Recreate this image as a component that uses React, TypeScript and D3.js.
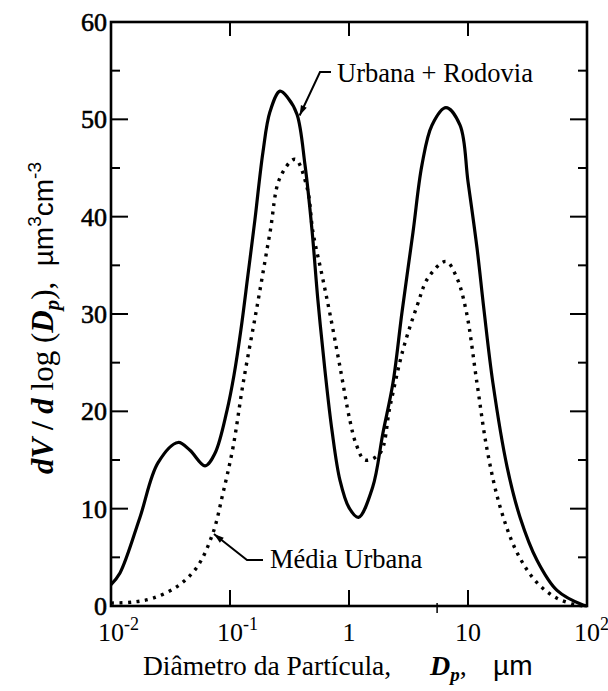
import React from "react";
import * as d3 from "d3";

// Urbana + Rodovia (solid)
const urbRodD = [0.01, 0.0119, 0.0175, 0.0248, 0.0366, 0.0461, 0.0617, 0.0748, 0.0944, 0.108, 0.1236, 0.1415, 0.162, 0.189, 0.217, 0.263, 0.307, 0.366, 0.427, 0.489, 0.548, 0.628, 0.72, 0.84, 1.0, 1.2, 1.58, 1.93, 2.34, 2.79, 3.45, 4.1, 4.98, 6.53, 8.57, 10.0, 11.9, 13.6, 16.2, 21.3, 27.4, 38.0, 56.0, 92.5, 100];
const urbRodV = [2.2, 3.4, 9.1, 14.7, 16.8, 16.0, 14.4, 15.7, 20.1, 23.7, 28.4, 34.0, 39.7, 46.6, 50.8, 52.9, 52.2, 50.5, 45.3, 38.6, 31.4, 24.2, 18.0, 12.9, 10.1, 9.1, 12.2, 17.8, 22.9, 30.2, 38.4, 45.3, 49.4, 51.2, 49.4, 43.6, 36.8, 30.5, 22.9, 14.3, 9.1, 4.7, 1.6, 0.1, 0];

// Média Urbana (dotted)
const mediaD = [0.01, 0.0153, 0.0225, 0.0359, 0.0528, 0.0719, 0.0873, 0.106, 0.129, 0.169, 0.217, 0.263, 0.352, 0.444, 0.498, 0.593, 0.692, 0.839, 1.02, 1.15, 1.36, 1.82, 2.21, 2.84, 3.75, 4.61, 6.53, 8.07, 9.66, 11.9, 14.5, 18.6, 25.8, 38.0, 56.0, 82.4, 100];
const mediaV = [0.3, 0.4, 0.8, 2.0, 4.0, 7.5, 11.6, 16.3, 22.9, 30.8, 38.4, 44.0, 45.9, 43.0, 38.4, 34.0, 30.0, 24.6, 19.0, 16.6, 15.0, 15.7, 20.5, 26.3, 30.9, 33.7, 35.4, 33.7, 30.3, 22.9, 16.0, 10.2, 5.5, 2.4, 0.8, 0.1, 0];

const xTicks = [0.01, 0.1, 1, 10, 100];
const xTickBase = ["10", "10", "1", "10", "10"];
const xTickSup = ["-2", "-1", "", "", "2"];
const xOddTick = [5.5];
const yMajor = [0, 10, 20, 30, 40, 50, 60];
const yMinor = [5, 15, 25, 35, 45, 55];

const seriesNames = ["Urbana + Rodovia", "Média Urbana"];
const annotD = [0.37, 0.0719];
const annotV = [50.5, 7.5];

const W = 608, H = 691;
const L = 111, R = 587, T = 22, B = 606;

export default function App() {
  const x = d3.scaleLog().domain([0.01, 100]).range([L, R]);
  const y = d3.scaleLinear().domain([0, 60]).range([B, T]);
  const mk = d3
    .line<[number, number]>()
    .x((d) => x(d[0]))
    .y((d) => y(d[1]))
    .curve(d3.curveCatmullRom.alpha(0.5));
  const solid = mk(urbRodD.map((d, i) => [d, urbRodV[i]] as [number, number])) || "";
  const dotted = mk(mediaD.map((d, i) => [d, mediaV[i]] as [number, number])) || "";

  const serif = "Liberation Serif, Times New Roman, Times, Tinos, DejaVu Serif, serif";
  const sans = "Liberation Sans, Arial, sans-serif";

  const tip1 = [x(annotD[0]) + 2, y(annotV[0]) + 1];
  const elbow1 = [320, 72];
  const end1 = [331, 72];
  const tip2 = [x(annotD[1]) + 1, y(annotV[1]) + 1];
  const elbow2 = [247, 560];
  const end2 = [263, 560];

  const arrow = (tip: number[], from: number[]) => {
    const dx = tip[0] - from[0], dy = tip[1] - from[1];
    const len = Math.hypot(dx, dy);
    const ux = dx / len, uy = dy / len;
    const al = 10, aw = 3.2;
    const bx = tip[0] - ux * al, by = tip[1] - uy * al;
    return `M${tip[0]},${tip[1]}L${bx - uy * aw},${by + ux * aw}L${bx + uy * aw},${by - ux * aw}Z`;
  };

  const fsTick = 26;
  return (
    <svg width={W} height={H} style={{ position: "absolute", left: 0, top: 0, background: "#fff" }}>
      <rect width={W} height={H} fill="#fff" />
      <path d={solid} fill="none" stroke="#000" strokeWidth={3.2} />
      <path d={dotted} fill="none" stroke="#000" strokeWidth={3.4} strokeDasharray="3 5.5" />

      <rect x={L} y={T} width={R - L} height={B - T} fill="none" stroke="#000" strokeWidth={2.6} />

      {yMajor.map((v) => (
        <g key={"ym" + v}>
          <line x1={L} x2={L + 17} y1={y(v)} y2={y(v)} stroke="#000" strokeWidth={2} />
          <line x1={R} x2={R - 17} y1={y(v)} y2={y(v)} stroke="#000" strokeWidth={2} />
          <text x={L - 4} y={y(v)} dy="0.35em" textAnchor="end" style={{ fontFamily: serif }} fontSize={fsTick} fill="#000" stroke="#000" strokeWidth={0.6}>
            {v}
          </text>
        </g>
      ))}
      {yMinor.map((v) => (
        <g key={"yn" + v}>
          <line x1={L} x2={L + 9} y1={y(v)} y2={y(v)} stroke="#000" strokeWidth={2} />
          <line x1={R} x2={R - 9} y1={y(v)} y2={y(v)} stroke="#000" strokeWidth={2} />
        </g>
      ))}

      {xTicks.map((t, i) => (
        <g key={"xt" + t}>
          {i > 0 && i < xTicks.length - 1 && (
            <>
              <line x1={x(t)} x2={x(t)} y1={B} y2={B - 16} stroke="#000" strokeWidth={2} />
              <line x1={x(t)} x2={x(t)} y1={T} y2={T + 14} stroke="#000" strokeWidth={2} />
            </>
          )}
          <text
            x={x(t) - (xTickBase[i].length * fsTick * 0.5) / 2}
            y={641}
            style={{ fontFamily: serif }}
            fontSize={fsTick}
            fill="#000"
          >
            {xTickBase[i]}
            {xTickSup[i] && (
              <tspan fontSize={18} dy={-11}>
                {xTickSup[i]}
              </tspan>
            )}
          </text>
        </g>
      ))}
      {xOddTick.map((t) => (
        <line key={"xo" + t} x1={x(t)} x2={x(t)} y1={B - 3} y2={B + 7} stroke="#000" strokeWidth={1.5} />
      ))}

      <text x={143} y={675} style={{ fontFamily: serif }} fontSize={27.5} fill="#000">
        Diâmetro da Partícula,
      </text>
      <text x={430} y={675} style={{ fontFamily: serif }} fontSize={28} fontStyle="italic" fontWeight="bold" fill="#000">
        D
        <tspan fontSize={19} dy={6}>p</tspan>
        <tspan fontStyle="normal" fontWeight="normal" dy={-6}>,</tspan>
      </text>
      <text x={493} y={675} style={{ fontFamily: sans }} fontSize={28} fill="#000">
        µm
      </text>

      <g transform="translate(53,474) rotate(-90)">
        <text x={0} y={0} style={{ fontFamily: serif, whiteSpace: "pre" }} fontSize={31} fill="#000">
          <tspan fontStyle="italic" fontWeight="bold">dV</tspan>
          <tspan fontWeight="bold">{" / "}</tspan>
          <tspan fontStyle="italic" fontWeight="bold">d</tspan>
          <tspan>{" log ("}</tspan>
          <tspan fontStyle="italic" fontWeight="bold">D</tspan>
          <tspan fontStyle="italic" fontWeight="bold" fontSize={21} dy={6}>p</tspan>
          <tspan dy={-6}>{"),  "}</tspan>
          <tspan style={{ fontFamily: sans }} fontSize={28}>µm</tspan>
          <tspan style={{ fontFamily: sans }} fontSize={19} dy={-12}>3</tspan>
          <tspan style={{ fontFamily: sans }} fontSize={28} dy={12}>cm</tspan>
          <tspan style={{ fontFamily: sans }} fontSize={19} dy={-12}>-3</tspan>
        </text>
      </g>

      <path d={`M${end1[0]},${end1[1]}L${elbow1[0]},${elbow1[1]}L${tip1[0]},${tip1[1]}`} fill="none" stroke="#000" strokeWidth={2} />
      <path d={arrow(tip1, elbow1)} fill="#000" />
      <text x={337} y={82} style={{ fontFamily: serif }} fontSize={26.5} fill="#000">
        {seriesNames[0]}
      </text>
      <path d={`M${end2[0]},${end2[1]}L${elbow2[0]},${elbow2[1]}L${tip2[0]},${tip2[1]}`} fill="none" stroke="#000" strokeWidth={2} />
      <path d={arrow(tip2, elbow2)} fill="#000" />
      <text x={270} y={568} style={{ fontFamily: serif }} fontSize={26.5} fill="#000">
        {seriesNames[1]}
      </text>
    </svg>
  );
}
